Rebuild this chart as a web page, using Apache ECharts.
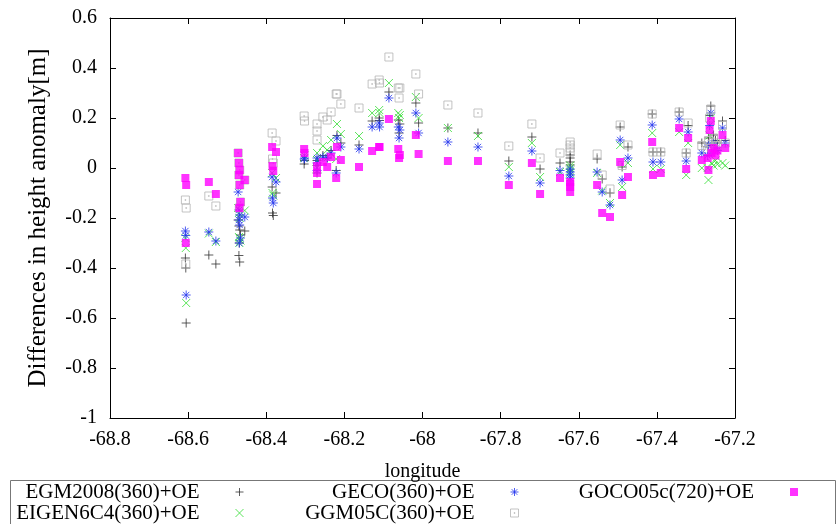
<!DOCTYPE html>
<html><head><meta charset="utf-8">
<script src="https://cdn.jsdelivr.net/npm/echarts@6/dist/echarts.min.js"></script>
<style>html,body{margin:0;padding:0;background:#fff}#c{width:837px;height:524px}</style>
</head><body><div id="c"></div>
<script>
const seriesNames = ['EGM2008(360)+OE', 'EIGEN6C4(360)+OE', 'GECO(360)+OE', 'GGM05C(360)+OE', 'GOCO05c(720)+OE'];
const xTicks = [-68.8, -68.6, -68.4, -68.2, -68, -67.8, -67.6, -67.4, -67.2];
const yTicks = [-1, -0.8, -0.6, -0.4, -0.2, 0, 0.2, 0.4, 0.6];
const longitude = [
 -68.607, -68.606, -68.605, -68.547, -68.529,
 -68.472, -68.470, -68.468, -68.455, -68.470, -68.468, -68.466, -68.469,
 -68.385, -68.375, -68.384, -68.382,
 -68.303, -68.302,
 -68.270, -68.270, -68.270, -68.255, -68.244, -68.234, -68.221, -68.219, -68.209,
 -68.1625, -68.129, -68.111, -68.110, -68.086, -68.062, -68.058, -68.060, -68.017, -68.010,
 -67.935, -67.858, -67.779, -67.720, -67.699, -67.648,
 -67.622, -67.622, -67.622, -67.622, -67.553, -67.540, -67.520,
 -67.494, -67.489, -67.474, -67.412, -67.410, -67.390, -67.343, -67.320, -67.325,
 -67.262, -67.265, -67.285, -67.268, -67.260, -67.255, -67.250, -67.245, -67.232, -67.225, -67.270
];
const egm2008 = [
 -0.36, -0.40, -0.62, -0.348, -0.384,
 -0.208, -0.232, -0.248, -0.252, -0.35, -0.376, -0.268, -0.30,
 -0.076, -0.10, -0.18, -0.19,
 0.016, 0.03,
 0.03, 0.01, -0.02, 0.05, 0.04, 0.07, -0.01, 0.13, 0.10,
 0.092, 0.188, 0.20, 0.19, 0.304, 0.192, 0.176, 0.14, 0.26, 0.18,
 0.16, 0.14, 0.028, 0.124, -0.004, 0.02,
 0.052, 0.04, 0.024, 0.012, 0.036, -0.044, -0.10,
 0.164, 0.004, 0.084, 0.216, 0.064, 0.064, 0.224, 0.17, 0.06,
 0.248, 0.21, 0.10, 0.12, 0.09, 0.132, 0.11, 0.10, 0.188, 0.11, 0.085
];
const eigen6c4 = [
 -0.28, -0.32, -0.54, -0.262, -0.296,
 -0.16, -0.18, -0.20, -0.17, -0.276, -0.28, -0.29, -0.30,
 -0.02, -0.04, -0.10, -0.11,
 0.04, 0.05,
 0.06, 0.032, 0.0, 0.088, 0.072, 0.112, 0.036, 0.176, 0.136,
 0.128, 0.22, 0.232, 0.22, 0.34, 0.22, 0.212, 0.20, 0.284, 0.20,
 0.16, 0.128, 0.004, 0.10, -0.036, -0.016,
 0.01, 0.0, -0.01, -0.02, -0.02, -0.09, -0.14,
 0.092, -0.076, 0.02, 0.14, -0.004, -0.004, 0.144, 0.10, -0.028,
 0.20, 0.13, 0.0, -0.048, 0.02, 0.01, 0.03, 0.015, 0.02, 0.01, 0.0
];
const geco = [
 -0.252, -0.27, -0.508, -0.256, -0.292,
 -0.096, -0.168, -0.188, -0.196, -0.208, -0.228, -0.28, -0.30,
 -0.036, -0.056, -0.12, -0.14,
 0.036, 0.04,
 0.04, 0.02, -0.01, 0.044, 0.04, 0.06, -0.02, 0.12, 0.084,
 0.076, 0.164, 0.18, 0.164, 0.28, 0.164, 0.152, 0.12, 0.22, 0.14,
 0.104, 0.084, -0.032, 0.068, -0.06, -0.01,
 -0.004, -0.016, -0.028, -0.04, -0.016, -0.096, -0.148,
 0.112, -0.048, 0.04, 0.172, 0.024, 0.024, 0.196, 0.144, 0.028,
 0.22, 0.17, 0.06, 0.092, 0.06, 0.10, 0.08, 0.07, 0.16, 0.10, 0.05
];
const ggm05c = [
 -0.128, -0.384, -0.16, -0.112, -0.152,
 0.06, 0.02, -0.008, -0.048, -0.028, -0.068, -0.136, -0.16,
 0.14, 0.108, 0.036, 0.02,
 0.208, 0.188,
 0.176, 0.148, 0.112, 0.204, 0.192, 0.224, 0.296, 0.296, 0.256,
 0.24, 0.336, 0.352, 0.34, 0.444, 0.32, 0.32, 0.28, 0.376, 0.296,
 0.252, 0.22, 0.088, 0.176, 0.04, 0.06,
 0.104, 0.092, 0.08, 0.064, 0.056, -0.028, -0.084,
 0.172, 0.01, 0.092, 0.216, 0.064, 0.064, 0.224, 0.18, 0.06,
 0.236, 0.20, 0.09, 0.11, 0.08, 0.12, 0.10, 0.09, 0.17, 0.10, 0.07
];
const goco05c = [
 -0.04, -0.30, -0.068, -0.056, -0.104,
 0.06, 0.02, -0.008, -0.048, -0.028, -0.068, -0.136, -0.16,
 0.084, 0.064, 0.008, -0.012,
 0.076, 0.06,
 0.008, -0.02, -0.064, 0.024, 0.004, 0.044, -0.04, 0.084, 0.032,
 0.004, 0.068, 0.084, 0.084, 0.196, 0.076, 0.052, 0.04, 0.132, 0.056,
 0.028, 0.028, -0.068, 0.02, -0.104, -0.04,
 -0.056, -0.064, -0.076, -0.096, -0.068, -0.18, -0.196,
 0.024, -0.108, -0.036, 0.104, -0.028, -0.02, 0.16, 0.12, -0.004,
 0.188, 0.152, 0.032, -0.008, 0.06, 0.08, 0.05, 0.07, 0.132, 0.08, 0.04
];
const seriesValues = [egm2008, eigen6c4, geco, ggm05c, goco05c];

const FONT = 'Liberation Serif';
const symbols = [
  'path://M5,0L5,10M0,5L10,5',
  'path://M0,0L10,10M0,10L10,0',
  'path://M5,0L5,10M0,5L10,5M1.5,1.5L8.5,8.5M1.5,8.5L8.5,1.5',
  'path://M0,0L10,0L10,10L0,10ZM4.5,4.5L5.5,4.5L5.5,5.5L4.5,5.5Z',
  'path://M0,0L10,0L10,10L0,10Z'
];
const sizes = [9, 8, 9, 8, 8];
const styles = [
  {color: 'none', borderColor: '#333333', borderWidth: 1},
  {color: 'none', borderColor: '#33dd33', borderWidth: 1},
  {color: 'none', borderColor: '#2233ee', borderWidth: 1},
  {color: 'none', borderColor: '#b4b4b4', borderWidth: 1},
  {color: '#ff00ff', borderColor: '#ff00ff', borderWidth: 0}
];
// legend slot: [iconCenterX, rowCenterY]
const legendSlots = [[242, 492], [242, 513], [517, 492], [517, 513], [794, 492]];

const fmt = v => String(+(+v).toFixed(1));
const axisCommon = {
  axisLine: {show: true, onZero: false, lineStyle: {color: '#000', width: 1}},
  axisTick: {show: true, inside: true, length: 6, lineStyle: {color: '#000'}},
  splitLine: {show: false}
};

const chart = echarts.init(document.getElementById('c'), null, {renderer: 'canvas'});
chart.setOption({
  animation: false,
  backgroundColor: '#fff',
  grid: {left: 110, right: 102, top: 18, bottom: 106},
  xAxis: [
    Object.assign({type: 'value', position: 'bottom', min: xTicks[0], max: xTicks[xTicks.length - 1], interval: 0.2,
      name: 'longitude', nameLocation: 'middle', nameGap: 44,
      nameTextStyle: {fontFamily: FONT, fontSize: 20, color: '#000'},
      axisLabel: {formatter: fmt, fontFamily: FONT, fontSize: 20, color: '#000', margin: 12}}, axisCommon),
    Object.assign({type: 'value', position: 'top', min: xTicks[0], max: xTicks[xTicks.length - 1], interval: 0.2,
      axisLabel: {show: false}}, axisCommon)
  ],
  yAxis: [
    Object.assign({type: 'value', position: 'left', min: yTicks[0], max: yTicks[yTicks.length - 1], interval: 0.2,
      name: 'Differences in height anomaly[m]', nameLocation: 'middle', nameGap: 59, nameRotate: 90,
      nameTextStyle: {fontFamily: FONT, fontSize: 25, color: '#000'},
      axisLabel: {formatter: fmt, fontFamily: FONT, fontSize: 20, color: '#000', margin: 13}}, axisCommon),
    Object.assign({type: 'value', position: 'right', min: yTicks[0], max: yTicks[yTicks.length - 1], interval: 0.2,
      axisLabel: {show: false}}, axisCommon)
  ],
  graphic: [{type: 'rect', left: 8, top: 478, z: -1,
    shape: {width: 825, height: 44}, style: {fill: 'none', stroke: '#777', lineWidth: 1}}],
  legend: seriesNames.map((n, i) => ({
    data: [{name: n, icon: symbols[i], itemStyle: styles[i]}],
    align: 'right', orient: 'horizontal', padding: 0,
    right: 837 - (legendSlots[i][0] + 4), top: legendSlots[i][1] - 11,
    itemWidth: 8, itemHeight: 8, selectedMode: false,
    textStyle: {fontFamily: FONT, fontSize: 21, color: '#000', lineHeight: 22, padding: [0, 31, 0, 0]}
  })),
  series: seriesNames.map((n, i) => ({
    name: n, type: 'scatter', xAxisIndex: 0, yAxisIndex: 0,
    symbol: symbols[i], symbolSize: sizes[i], symbolKeepAspect: true,
    itemStyle: styles[i],
    emphasis: {disabled: true},
    data: longitude.map((x, k) => [x, seriesValues[i][k]])
  }))
});
</script></body></html>
